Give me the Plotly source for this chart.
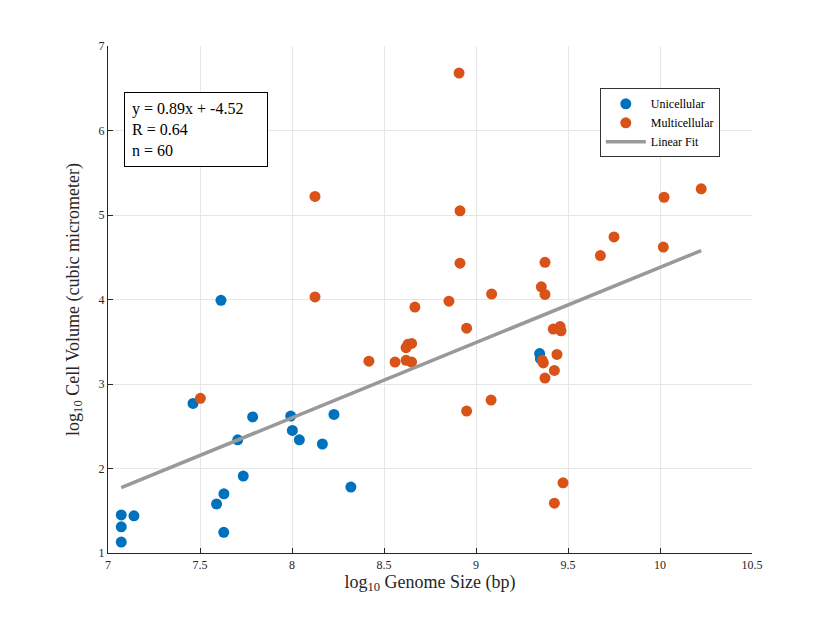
import plotly.graph_objects as go
import numpy as np

uni_x = [7.072, 7.072, 7.072, 7.141, 7.462, 7.59, 7.63, 7.629, 7.705, 7.735,
         7.786, 7.993, 8.002, 8.04, 8.165, 8.228, 8.32, 7.614, 9.346, 9.35]
uni_y = [1.45, 1.31, 1.13, 1.44, 2.77, 1.58, 1.70, 1.245, 2.34, 1.91,
         2.61, 2.62, 2.45, 2.34, 2.29, 2.64, 1.78, 3.99, 3.36, 3.30]

multi_x = [7.502, 8.908, 8.125, 8.913, 8.913, 8.125, 9.085, 8.853, 8.668, 8.949,
           8.62, 8.63, 8.65, 8.418, 8.56, 8.62, 8.65, 9.082, 8.949,
           10.224, 10.022, 9.75, 9.676, 10.018, 9.375, 9.355, 9.375,
           9.42, 9.457, 9.462, 9.44, 9.366, 9.36, 9.426, 9.375, 9.473, 9.426]
multi_y = [2.83, 6.68, 5.22, 5.05, 4.43, 4.03, 4.065, 3.98, 3.91, 3.66,
           3.43, 3.47, 3.48, 3.27, 3.26, 3.28, 3.26, 2.81, 2.68,
           5.31, 5.21, 4.74, 4.52, 4.62, 4.44, 4.15, 4.06,
           3.65, 3.68, 3.63, 3.35, 3.25, 3.28, 3.16, 3.07, 1.83, 1.59]

fit_slope = 0.89
fit_intercept = -4.52
fit_r = 0.64
n_points = 60

x_ticks = [7, 7.5, 8, 8.5, 9, 9.5, 10, 10.5]
y_ticks = [1, 2, 3, 4, 5, 6, 7]

all_x = uni_x + multi_x
fit_x = [min(all_x), max(all_x)]
fit_y = [fit_slope * v + fit_intercept for v in fit_x]

font = "Liberation Serif, Times New Roman, serif"
axis_col = "#262626"

fig = go.Figure()
fig.add_trace(go.Scatter(x=uni_x, y=uni_y, mode="markers", name="Unicellular",
                         marker=dict(color="#0072BD", size=11)))
fig.add_trace(go.Scatter(x=multi_x, y=multi_y, mode="markers", name="Multicellular",
                         marker=dict(color="#D95319", size=11)))
fig.add_trace(go.Scatter(x=fit_x, y=fit_y, mode="lines", name="Linear Fit",
                         line=dict(color="#999999", width=3.5)))

fig.update_layout(
    width=830, height=622,
    margin=dict(l=100, r=86, t=38, b=77),
    paper_bgcolor="white", plot_bgcolor="white",
    font=dict(family=font, color=axis_col),
    legend=dict(x=0.950, y=0.9166, xanchor="right", yanchor="top",
                bgcolor="white", bordercolor="#333333", borderwidth=1,
                font=dict(family=font, size=12, color="black"),
                itemwidth=40, tracegroupgap=0),
    xaxis=dict(range=[7, 10.5], tickvals=x_ticks, ticktext=[str(t) for t in x_ticks],
               showgrid=True, gridcolor="#e6e6e6", gridwidth=1,
               showline=True, linecolor=axis_col, linewidth=1.2, mirror=False,
               ticks="inside", ticklen=5, tickcolor=axis_col, zeroline=False,
               tickfont=dict(family=font, size=12, color=axis_col),
               title=dict(text="log<sub>10</sub> Genome Size (bp)",
                          font=dict(family=font, size=18, color=axis_col), standoff=4)),
    yaxis=dict(range=[1, 7], tickvals=y_ticks,
               showgrid=True, gridcolor="#e6e6e6", gridwidth=1,
               showline=True, linecolor=axis_col, linewidth=1.2, mirror=False,
               ticks="inside", ticklen=5, tickcolor=axis_col, zeroline=False,
               tickfont=dict(family=font, size=12, color=axis_col),
               title=dict(text="log<sub>10</sub> Cell Volume (cubic micrometer)",
                          font=dict(family=font, size=18, color=axis_col), standoff=14)),
)

fig.add_annotation(
    xref="paper", yref="paper", x=(124.3 - 108) / 644, y=(553 - 92.3) / 507,
    xanchor="left", yanchor="top", align="left", showarrow=False,
    text=(f"y = {fit_slope:.2f}x + {fit_intercept:.2f}<br>R = {fit_r:.2f}<br>n = {n_points}"),
    font=dict(family=font, size=16, color="black"),
    bordercolor="black", borderwidth=1, borderpad=7, bgcolor="white",
    width=128,
)

fig.write_html("out.html")
